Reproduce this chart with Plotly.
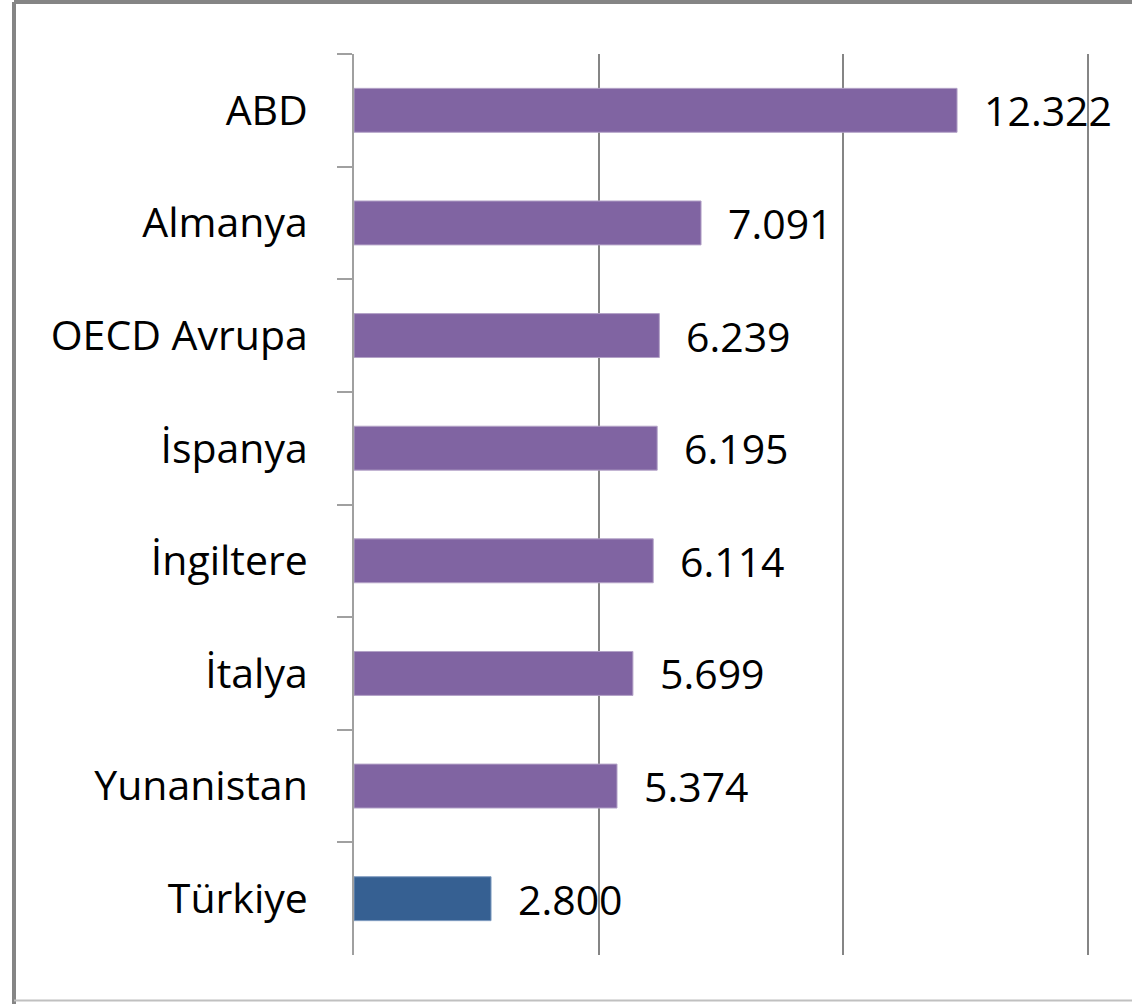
import plotly.graph_objects as go

categories = ["ABD", "Almanya", "OECD Avrupa", "İspanya", "İngiltere", "İtalya", "Yunanistan", "Türkiye"]
values = [12322, 7091, 6239, 6195, 6114, 5699, 5374, 2800]
value_labels = ["12.322", "7.091", "6.239", "6.195", "6.114", "5.699", "5.374", "2.800"]
bar_colors = ["#8064A2"] * 7 + ["#366092"]

FONT = "Open Sans"

fig = go.Figure()
fig.add_trace(go.Bar(
    y=categories, x=values, orientation="h",
    marker=dict(color=bar_colors, line=dict(width=1, color=["#B3A2C7"] * 7 + ["#7F9CC0"])),
    width=0.39, hoverinfo="skip",
))

for c, v, t in zip(categories, values, value_labels):
    fig.add_annotation(x=v, y=c, text=t, showarrow=False, xanchor="left", xshift=25,
                       font=dict(family=FONT, size=41, color="#000000"))

fig.update_layout(
    width=1132, height=1004,
    margin=dict(l=354, r=39, t=54, b=49),
    paper_bgcolor="white", plot_bgcolor="white",
    showlegend=False,
    xaxis=dict(range=[0, 15100], tickvals=[5000, 10000, 15000], showgrid=True, gridcolor="#858585",
               gridwidth=1.6, showticklabels=False, zeroline=False, showline=False, ticks=""),
    yaxis=dict(autorange="reversed", showline=True, linecolor="#A0A0A0", linewidth=2,
               ticks="outside", tickson="boundaries", ticklen=15, tickcolor="#A0A0A0", tickwidth=2,
               ticklabelstandoff=36,
               tickfont=dict(family=FONT, size=41, color="#000000"), showgrid=False),
)

# outer frame
x_left = -354 / 739 * 1.0 + 340 / 739 * 0 - 14 / 739 * 0  # placeholder replaced below
x_left = (14 - 354) / 739
fig.add_shape(type="line", xref="paper", yref="paper", x0=x_left, x1=x_left, y0=1.0577, y1=-0.06,
              line=dict(color="#858585", width=4))
fig.add_shape(type="line", xref="paper", yref="paper", x0=x_left, x1=1.1, y0=1.0577, y1=1.0577,
              line=dict(color="#858585", width=4))
fig.add_shape(type="line", xref="paper", yref="paper", x0=x_left, x1=1.1, y0=-0.0505, y1=-0.0505,
              line=dict(color="#C0C0C0", width=2))

fig.write_html("out.html", config={"displayModeBar": False},
               post_script="document.body.style.margin='0';document.body.style.overflow='hidden';")
